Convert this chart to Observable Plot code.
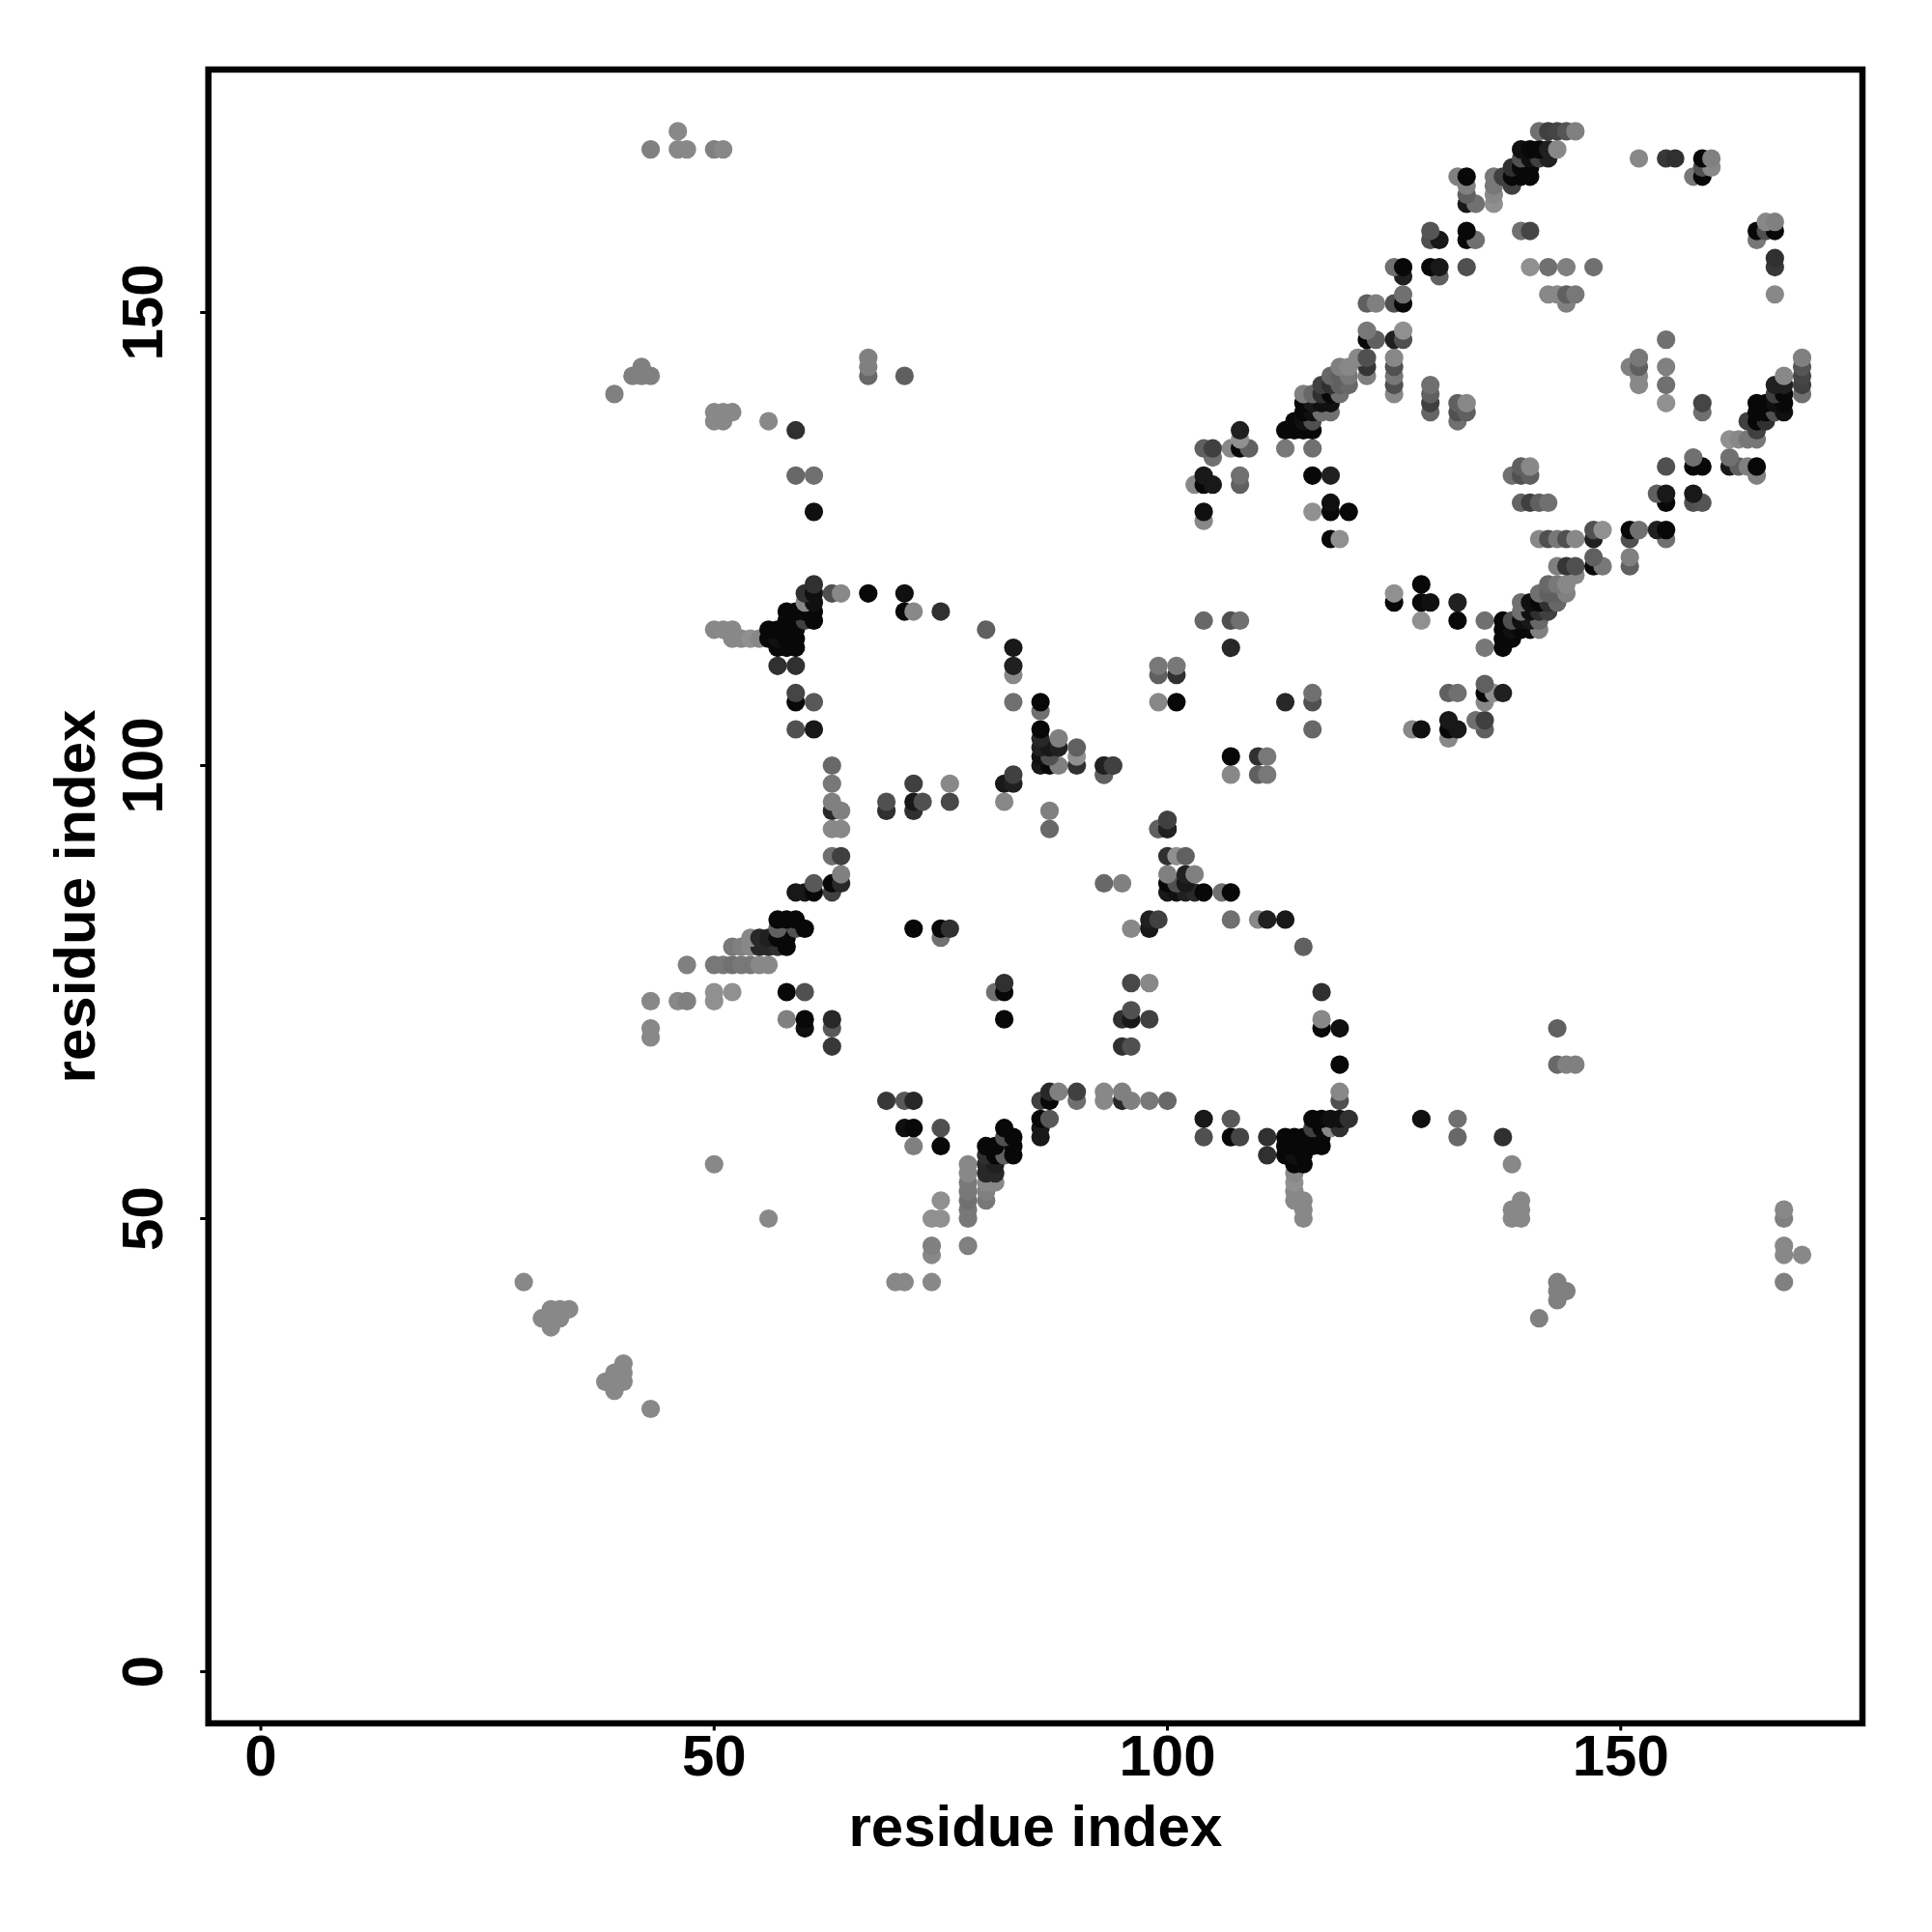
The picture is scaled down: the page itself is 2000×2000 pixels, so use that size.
<!DOCTYPE html>
<html><head><meta charset="utf-8">
<style>html,body{margin:0;padding:0;background:#fff;overflow:hidden}svg{display:block}</style>
<script src="https://cdn.jsdelivr.net/npm/d3@7"></script>
<script src="https://cdn.jsdelivr.net/npm/@observablehq/plot@0.6"></script>
</head><body><div id="chart"></div>
<script>
// Contact map is symmetric: each row holds residues i < j for one residue j, with the grey level of that contact.
const contactJ = [170,168,167,166,165,164,163,162,159,158,155,154,152,151,148,147,145,144,143,142,141,140,139,138,137,136,135,134,132,131,129,128,127,125,120,119,118,117,116,115,114,113,111,110,108,107,106,104,103,102,101,100,99,98,96,95,94,93,90,88,87,86,83,82,81,80,78,75,74,72,71,70,69,64,63,61,60,59,58,57,56,55,54,53,52,51,50,47,46,43,40,39,38];
const contactI = [
[46,141,142,143,144,145],
[43,46,47,50,51,139,140,141,142,143],
[139,140,141,142,152,155,156,159,160],
[138,139,140,159,160],
[132,133,136,137,138,139,140,158,159],
[133,136,138],
[133,136],
[133,134,136],
[129,133,139,140],
[129,130,133,134],
[125,126,129,130,133,140,142,144,147],
[126,130],
[126,142,143,144,145],
[122,123,125,126,144],
[122,126],
[122,123,125,126],
[67,121,122,125],
[42,67,119,120,122,125],
[41,42,43,67,71,118,119,120,122,125],
[117,118,119,120,125,129],
[39,115,116,117,118,119,125,129],
[115,116,117,118,129,132,133],
[50,51,52,115,116,117,118,129,132,133],
[50,51,56,114,115,116,132],
[59,108,113,114,115,116],
[108],
[104,105,107,108,109,113,116],
[105],
[59,61,104,108,116,118],
[103,104,105,108],
[118],
[61,104,116,118,120],
[104],
[118,119],
[61],
[60,61,63,64,67,71],
[60,61],
[58,59,60,61,71,72,75],
[58,59,60,61,104,107,108],
[50,51,52,56,57,58,59,80],
[52,53,54,55,56,57,58,59],
[57,58,59,83,107],
[57,59,83,99,101],
[83,99,101],
[59],
[59,61,83,86,99,101],
[86],
[59,61,86],
[86,88],
[86,87,88,90],
[86,87,90],
[63,86,87,88,90,93,94],
[83,93],
[63,72,76,82,83],
[63,69,72,73,76,82],
[63,64,69,72,87],
[100],
[63,64,87,99,100],
[63,64],
[64],
[61,63,64],
[59,60,61,63],
[57,58,59],
[57,59,60,72,75,76],
[54,55,56,57,58,75],
[52,53,54,55,56,57,58],
[47,50,51,52,53,54,55,56],
[50,52,58,60],
[43,46,47,50],
[58,60,63],
[43,60,63],
[43],
[63],
[],[],[],[],[],[],[],
[50],
[],[],[],[],[],[],[],[],
[29],
[32,33,34],
[31,32,33],
[32]
];
const contactGrey = [
[0x88,0x70,0x40,0x45,0x55,0x80],
[0x80,0x88,0x88,0x80,0x88,0x10,0x08,0x08,0x20,0x88],
[0x50,0x10,0x40,0x20,0x88,0x38,0x30,0x08,0x80],
[0x30,0x08,0x08,0x50,0x88],
[0x80,0x08,0x78,0x40,0x08,0x08,0x08,0x78,0x08],
[0x80,0x78,0x40],
[0x60,0x88],
[0x18,0x70,0x90],
[0x55,0x08,0x70,0x45],
[0x50,0x18,0x08,0x70],
[0x70,0x08,0x08,0x18,0x50,0x90,0x70,0x80,0x70],
[0x20,0x60],
[0x70,0x88,0x88,0x60,0x78],
[0x60,0x80,0x50,0x08,0x80],
[0x78,0x90],
[0x08,0x60,0x20,0x50],
[0x80,0x88,0x50,0x88],
[0x80,0x80,0x80,0x88,0x35,0x50],
[0x80,0x80,0x80,0x68,0x60,0x68,0x60,0x78,0x80,0x78],
[0x40,0x30,0x60,0x68,0x50,0x70],
[0x80,0x80,0x68,0x30,0x08,0x70,0x88,0x60],
[0x08,0x18,0x10,0x10,0x40,0x60,0x88],
[0x88,0x88,0x88,0x08,0x10,0x70,0x70,0x65,0x50,0x60],
[0x88,0x88,0x88,0x08,0x10,0x50,0x70],
[0x30,0x20,0x08,0x08,0x08,0x08],
[0x90],
[0x60,0x40,0x88,0x08,0x60,0x78,0x70],
[0x70],
[0x68,0x70,0x18,0x70,0x08,0x20],
[0x88,0x08,0x18,0x60],
[0x10],
[0x10,0x10,0x90,0x08,0x08],
[0x88],
[0x08,0x90],
[0x30],
[0x30,0x10,0x50,0x88,0x08,0x10],
[0x88,0x10],
[0x08,0x08,0x08,0x08,0x08,0x88,0x30],
[0x08,0x08,0x40,0x08,0x68,0x50,0x70],
[0x88,0x88,0x88,0x08,0x08,0x08,0x08,0x60],
[0x88,0x88,0x90,0x88,0x08,0x10,0x08,0x08],
[0x08,0x08,0x08,0x18,0x28],
[0x30,0x30,0x20,0x78,0x78],
[0x88,0x60,0x30],
[0x45],
[0x08,0x58,0x70,0x08,0x88,0x08],
[0x70],
[0x50,0x18,0x08],
[0x28,0x80],
[0x20,0x18,0x20,0x60],
[0x10,0x50,0x90],
[0x68,0x18,0x08,0x80,0x30,0x30,0x40],
[0x40,0x60],
[0x78,0x40,0x88,0x18,0x20],
[0x80,0x50,0x18,0x50,0x48,0x88],
[0x28,0x80,0x30,0x30,0x80],
[0x40],
[0x88,0x88,0x68,0x60,0x20],
[0x70,0x40],
[0x80],
[0x58,0x08,0x28],
[0x18,0x18,0x08,0x40],
[0x08,0x08,0x08],
[0x60,0x50,0x08,0x08,0x08,0x30],
[0x88,0x28,0x20,0x08,0x08,0x70],
[0x78,0x80,0x88,0x28,0x28,0x30,0x08],
[0x80,0x78,0x78,0x70,0x78,0x78,0x88,0x88],
[0x90,0x90,0x08,0x50],
[0x88,0x88,0x80,0x90],
[0x80,0x08,0x28],
[0x88,0x10,0x58],
[0x88],
[0x38],
[],[],[],[],[],[],[],
[0x88],
[],[],[],[],[],[],[],[],
[0x88],
[0x88,0x88,0x88],
[0x88,0x88,0x88],
[0x88]
];
const tickValues = [0,50,100,150];
const axisTitle = "residue index";

const contacts = contactJ.flatMap((j,k) => contactI[k].flatMap((i,m) => {
  const g = contactGrey[k][m], fill = `rgb(${g},${g},${g})`;
  return [{x:i,y:j,fill},{x:j,y:i,fill}];
})).sort((a,b) => d3.ascending(a.y,b.y) || d3.ascending(a.x,b.x));

const chart = Plot.plot({
  width:2000, height:2000,
  marginLeft:215.2, marginRight:72.5, marginTop:71.5, marginBottom:216.5,
  x:{domain:[-5.786,176.66]},
  y:{domain:[-5.70,176.81]},
  color:{type:"identity"},
  style:{fontFamily:"'Liberation Sans',Helvetica,Arial,sans-serif",fontWeight:"bold",fontSize:"60px",color:"#000",background:"#fff"},
  marks:[
    Plot.dot(contacts,{x:"x",y:"y",r:9.6,fill:"fill",stroke:"none"}),
    Plot.frame({stroke:"#000",strokeWidth:6.5}),
    Plot.axisX({ticks:tickValues,tickSize:8,tickPadding:3,strokeWidth:3,label:axisTitle,labelAnchor:"center",labelArrow:"none",labelOffset:127}),
    Plot.axisY({ticks:tickValues,tickSize:8,tickPadding:40,strokeWidth:3,tickRotate:-90,label:axisTitle,labelAnchor:"center",labelArrow:"none",labelOffset:160})
  ]
});
document.getElementById("chart").appendChild(chart);
</script></body></html>
